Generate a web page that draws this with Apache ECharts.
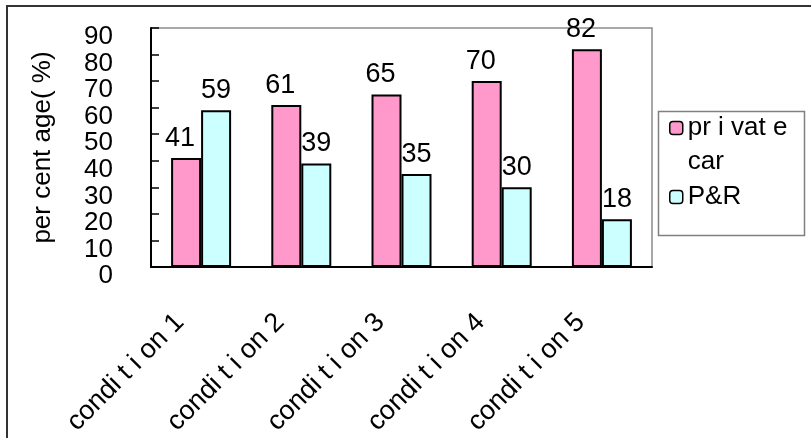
<!DOCTYPE html>
<html>
<head>
<meta charset="utf-8">
<script src="https://cdn.jsdelivr.net/npm/echarts@6/dist/echarts.min.js"></script>
<style>
  html, body { margin: 0; padding: 0; background: #ffffff; }
  #chart { width: 811px; height: 438px; }
</style>
</head>
<body>
<div id="chart"></div>
<script>
// Mode share under five scenarios
const categories = ['condi t i on 1', 'condi t i on 2', 'condi t i on 3', 'condi t i on 4', 'condi t i on 5'];
const privateCar = [41, 61, 65, 70, 82];
const parkAndRide = [59, 39, 35, 30, 18];
const seriesNames = ['private car', 'P&R'];
const legendLabels = { 'private car': 'pr i vat e\ncar', 'P&R': 'P&R' };
const yTicks = { min: 0, max: 90, step: 10 };
const yName = 'per cent age( %)';

const FONT = '"Liberation Sans", Arial, sans-serif';
const chart = echarts.init(document.getElementById('chart'), null, { renderer: 'canvas' });

const barBorder = { borderColor: '#000000', borderWidth: 2 };
const labelStyle = {
  show: true,
  position: 'top',
  distance: 6,
  color: '#000000',
  fontFamily: FONT,
  fontSize: 27
};

chart.setOption({
  backgroundColor: '#ffffff',
  animation: false,
  textStyle: { fontFamily: FONT },
  grid: {
    left: 151, top: 28, right: 159, bottom: 171,
    outerBoundsMode: 'none',
    containLabel: false,
    show: true,
    borderColor: '#8c8c8c',
    borderWidth: 1.5,
    backgroundColor: 'transparent'
  },
  legend: {
    orient: 'vertical',
    left: 669,
    top: 77,
    padding: 0,
    itemGap: 1,
    itemWidth: 13,
    itemHeight: 13,
    data: seriesNames,
    // the leading blank line keeps the first text line level with its swatch
    formatter: function (name) {
      return name === seriesNames[0] ? '\n' + legendLabels[name] : legendLabels[name];
    },
    textStyle: { color: '#000000', fontSize: 26, fontFamily: FONT, lineHeight: 34 },
    itemStyle: { borderColor: '#000000', borderWidth: 1.5 }
  },
  xAxis: {
    type: 'category',
    data: categories,
    axisLine: { lineStyle: { color: '#000000', width: 2 } },
    axisTick: { inside: true, length: 8, lineStyle: { color: '#000000', width: 1.5 } },
    axisLabel: {
      rotate: 45,
      interval: 0,
      margin: 30,
      color: '#000000',
      fontSize: 27,
      fontFamily: FONT,
      // trailing spacer pulls each label down-left along its own baseline
      formatter: function (v) { return '{t|' + v + '}{s|}'; },
      rich: {
        t: { fontSize: 27, fontFamily: FONT, color: '#000000' },
        s: { width: 30 }
      }
    },
    splitLine: { show: false }
  },
  yAxis: {
    type: 'value',
    min: yTicks.min,
    max: yTicks.max,
    interval: yTicks.step,
    name: yName,
    nameLocation: 'middle',
    nameRotate: 90,
    nameGap: 95,
    nameTextStyle: { color: '#000000', fontSize: 26, fontFamily: FONT },
    axisLine: { show: true, lineStyle: { color: '#000000', width: 2 } },
    axisTick: { show: true, inside: true, length: 8, lineStyle: { color: '#000000', width: 1.5 } },
    axisLabel: {
      margin: 38,
      color: '#000000',
      fontSize: 26,
      fontFamily: FONT,
      verticalAlign: 'top',
      lineHeight: 18,
      showMinLabel: true,
      showMaxLabel: true,
      hideOverlap: false
    },
    splitLine: { show: false }
  },
  graphic: [
    {
      type: 'rect',
      shape: { x: 7, y: 6, width: 900, height: 500 },
      style: { fill: 'none', stroke: '#333333', lineWidth: 2 },
      silent: true, z: -1
    },
    {
      type: 'rect',
      shape: { x: 658.5, y: 111.5, width: 146, height: 124 },
      style: { fill: 'none', stroke: '#808080', lineWidth: 1.5 },
      silent: true, z: -1
    }
  ],
  series: [
    {
      name: seriesNames[0],
      type: 'bar',
      data: privateCar,
      barWidth: 30,
      barGap: '0%',
      itemStyle: Object.assign({ color: '#ff99cc' }, barBorder),
      label: Object.assign({ offset: [-6, 0] }, labelStyle)
    },
    {
      name: seriesNames[1],
      type: 'bar',
      data: parkAndRide,
      barWidth: 30,
      itemStyle: Object.assign({ color: '#ccffff' }, barBorder),
      label: labelStyle
    }
  ]
});
</script>
</body>
</html>
